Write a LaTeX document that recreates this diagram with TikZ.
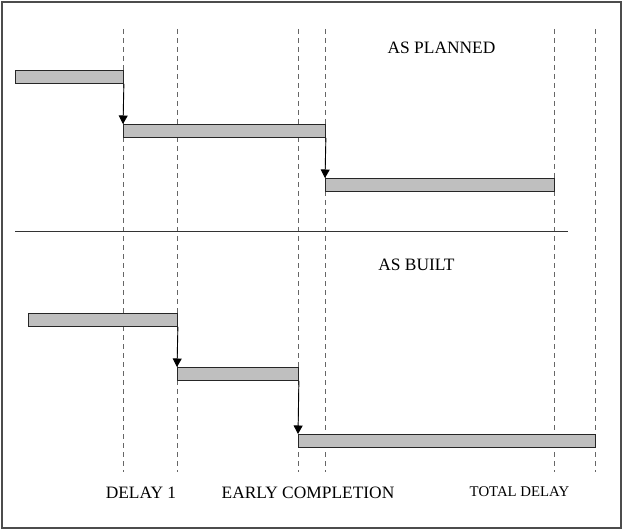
\documentclass[tikz,border=0pt]{standalone}
\usepackage{fontspec}
\setmainfont{Liberation Serif}
\usetikzlibrary{arrows.meta}
\begin{document}
\begin{tikzpicture}[x=1pt,y=-1pt,
  bar/.style={draw=black!85, fill=black!25, line width=0.9pt, inner sep=0pt, minimum height=13pt, anchor=north west},
  guide/.style={draw=black!60, line width=0.7pt, dash pattern=on 5pt off 4pt},
  arr/.style={draw=black, line width=0.9pt, -{Triangle[length=8.5pt,width=9pt]}},
  lbl/.style={font=\fontsize{17.4}{19}\selectfont, anchor=base, inner sep=0pt},
  slbl/.style={font=\fontsize{14.8}{16}\selectfont, anchor=base, inner sep=0pt}]
\useasboundingbox (0,0) rectangle (627,532);
\draw[draw=black!70, line width=1.4pt] (2,2) rectangle (621,528);
% guides
\foreach \x in {123,177,298,325,554,595} \draw[guide] (\x,29) -- (\x,472);
% separator
\draw[black!80, line width=0.8pt] (15,231) -- (568,231);
% planned bars
\node[bar, minimum width=108pt] (p1) at (15,70) {};
\node[bar, minimum width=202pt] (p2) at (123,124) {};
\node[bar, minimum width=229pt] (p3) at (325,178) {};
% built bars
\node[bar, minimum width=149pt] (b1) at (28,313) {};
\node[bar, minimum width=121pt] (b2) at (177,367) {};
\node[bar, minimum width=297pt] (b3) at (298,434) {};
% arrows
\draw[arr] (p1.south east) -- (p2.north west);
\draw[arr] (p2.south east) -- (p3.north west);
\draw[arr] (b1.south east) -- (b2.north west);
\draw[arr] (b2.south east) -- (b3.north west);
% labels
\node[lbl] (tp) at (441.5,54) {AS PLANNED};
\node[lbl] (tb) at (416.5,270) {AS BUILT};
\node[lbl] (d1) at (141,498) {DELAY 1};
\node[lbl] (ec) at (308,498) {EARLY COMPLETION};
\node[slbl] (td) at (519.5,496) {TOTAL DELAY};
\end{tikzpicture}
\end{document}
